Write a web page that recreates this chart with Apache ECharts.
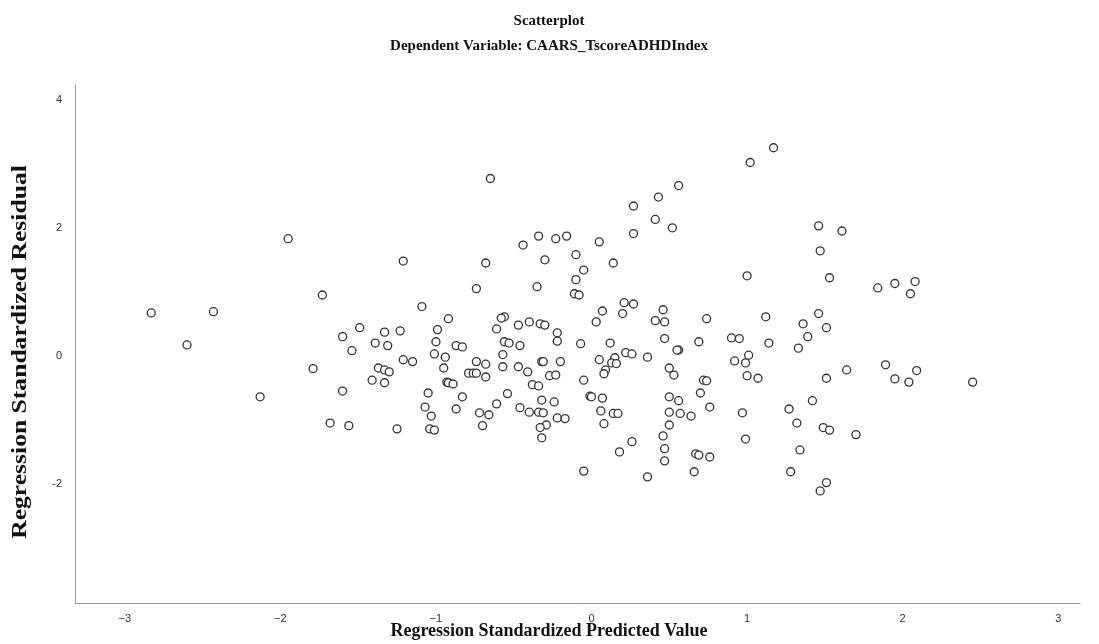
<!DOCTYPE html>
<html>
<head>
<meta charset="utf-8">
<script src="https://cdn.jsdelivr.net/npm/echarts@6/dist/echarts.min.js"></script>
<style>html,body{margin:0;padding:0;background:#fff;}#c{width:1099px;height:644px;}</style>
</head>
<body>
<div id="c"></div>
<script>
var titleLines = ["Scatterplot", "Dependent Variable: CAARS_TscoreADHDIndex"];
var xAxisTitle = "Regression Standardized Predicted Value";
var yAxisTitle = "Regression Standardized Residual";
var xTicks = [-3, -2, -1, 0, 1, 2, 3];
var yTicks = [-2, 0, 2, 4];

var predicted = [
 -2.83,-2.43,-1.95,-1.73,-2.60,-1.79,-2.13,-1.68,
 -0.65,-1.21,-0.68,-0.44,-0.34,-0.23,-0.16,-0.10,-0.30,-0.05,-0.10,-0.74,-0.35,-0.11,-0.08,-1.09,-0.92,-0.56,-0.58,
 1.17,1.02,0.56,0.43,0.27,0.41,0.52,0.27,0.05,0.14,1.46,1.61,1.47,1.00,1.53,0.21,0.27,0.07,0.20,0.46,0.74,1.12,1.46,
 1.84,1.95,2.08,2.05,
 1.64,1.89,1.95,2.09,2.04,2.45,1.70,
 -1.49,-1.60,-1.33,-1.23,-0.99,-0.61,-0.47,-0.40,-0.33,-0.30,-0.22,-0.22,-0.07,-1.39,-1.31,-1.54,-1.00,-0.87,-0.83,-0.56,-0.53,-0.46,
 -1.01,-0.94,-0.57,-1.21,-1.15,-1.37,-1.33,-1.30,-0.95,-0.74,-0.68,-0.57,-0.47,-0.41,-0.32,-0.31,-0.20,-0.79,-0.76,-0.74,-0.68,
 -1.41,-1.33,-0.93,-0.92,-0.89,-0.38,-0.34,-0.27,-0.23,-0.05,-1.60,-1.05,-0.83,-0.54,-0.32,-0.24,-0.01,-1.07,-0.87,-0.61,-0.46,
 -0.40,-0.34,-0.31,-0.72,-0.66,-1.03,-0.22,-0.17,-1.56,-1.25,-1.04,-1.01,-0.70,-0.29,-0.33,-0.32,-0.05,
 0.03,0.41,0.47,1.36,1.51,0.12,0.47,0.56,0.55,0.69,0.90,0.95,1.14,1.33,1.39,0.05,0.15,0.13,0.16,0.22,0.26,0.36,0.09,0.08,
 0.50,0.53,0.92,0.99,1.01,1.00,1.07,0.72,0.74,1.51,0.00,0.07,0.50,0.56,0.70,0.76,0.06,0.14,0.17,0.50,0.57,0.64,0.97,1.27,1.42,
 0.08,0.50,1.32,1.49,1.53,0.46,0.26,0.99,0.18,0.47,0.47,0.67,0.69,0.76,1.34,0.66,1.28,0.36,1.51,1.47
];
var residual = [
 0.67,0.69,1.83,0.95,0.17,-0.20,-0.64,-1.05,
 2.77,1.48,1.45,1.73,1.87,1.83,1.87,1.58,1.50,1.34,1.19,1.05,1.08,0.97,0.95,0.77,0.58,0.61,0.59,
 3.25,3.02,2.66,2.48,2.34,2.13,2.00,1.91,1.78,1.45,2.03,1.95,1.64,1.25,1.22,0.83,0.81,0.70,0.66,0.72,0.58,0.61,0.66,
 1.06,1.13,1.16,0.97,
 -0.22,-0.14,-0.36,-0.23,-0.41,-0.41,-1.23,
 0.44,0.30,0.37,0.39,0.41,0.42,0.48,0.53,0.50,0.48,0.36,0.23,0.19,0.20,0.16,0.08,0.22,0.16,0.14,0.22,0.20,0.16,
 0.03,-0.02,0.02,-0.06,-0.09,-0.19,-0.22,-0.25,-0.19,-0.09,-0.13,-0.17,-0.17,-0.25,-0.09,-0.09,-0.09,-0.27,-0.27,-0.27,-0.33,
 -0.38,-0.42,-0.41,-0.42,-0.44,-0.45,-0.47,-0.31,-0.30,-0.38,-0.55,-0.58,-0.64,-0.59,-0.69,-0.72,-0.63,-0.80,-0.83,-0.75,-0.81,
 -0.88,-0.88,-0.89,-0.89,-0.92,-0.94,-0.97,-0.98,-1.09,-1.14,-1.14,-1.16,-1.09,-1.08,-1.12,-1.28,-1.80,
 0.53,0.55,0.53,0.50,0.44,0.20,0.27,0.09,0.09,0.22,0.28,0.27,0.20,0.12,0.30,-0.06,-0.03,-0.11,-0.12,0.05,0.03,-0.02,-0.22,-0.28,
 -0.19,-0.30,-0.08,-0.11,0.01,-0.31,-0.35,-0.38,-0.39,-0.35,-0.64,-0.66,-0.64,-0.70,-0.58,-0.80,-0.86,-0.90,-0.90,-0.88,-0.90,-0.94,-0.89,-0.83,-0.70,
 -1.06,-1.08,-1.05,-1.12,-1.16,-1.25,-1.34,-1.30,-1.50,-1.45,-1.64,-1.53,-1.55,-1.58,-1.47,-1.81,-1.81,-1.89,-1.98,-2.11
];

var points = predicted.map(function (x, i) { return [x, residual[i]]; });

var chart = echarts.init(document.getElementById('c'), null, { renderer: 'canvas' });
var serif = '"Liberation Serif", "DejaVu Serif", serif';
var sans = '"Liberation Sans", Arial, sans-serif';
chart.setOption({
  animation: false,
  backgroundColor: '#fff',
  grid: { left: 75, right: 19, top: 85, bottom: 41, containLabel: false },
  xAxis: {
    type: 'value', min: -3.32, max: 3.14,
    axisLine: { show: true, onZero: false, lineStyle: { color: '#9a9a9a', width: 1 } },
    axisTick: { show: false },
    splitLine: { show: false },
    axisLabel: {
      customValues: xTicks, margin: 10, fontSize: 11, color: '#333', fontFamily: sans,
      formatter: function (v) { return String(v).replace('-', '\u2212'); }
    }
  },
  yAxis: {
    type: 'value', min: -3.86, max: 4.23,
    axisLine: { show: true, onZero: false, lineStyle: { color: '#9a9a9a', width: 1 } },
    axisTick: { show: false },
    splitLine: { show: false },
    axisLabel: { customValues: yTicks, margin: 13, fontSize: 11, color: '#333', fontFamily: sans }
  },
  graphic: [
    { type: 'text', x: 549, y: 21, style: { text: titleLines[0], font: 'bold 15px ' + serif, fill: '#111', align: 'center', verticalAlign: 'middle' } },
    { type: 'text', x: 549, y: 46, style: { text: titleLines[1], font: 'bold 15px ' + serif, fill: '#111', align: 'center', verticalAlign: 'middle' } },
    { type: 'text', x: 549, y: 631, style: { text: xAxisTitle, font: 'bold 18px ' + serif, fill: '#111', align: 'center', verticalAlign: 'middle' } },
    { type: 'text', x: 21, y: 352, rotation: Math.PI / 2, scaleX: 1.28, scaleY: 1.0, style: { text: yAxisTitle, font: 'bold 20px ' + serif, fill: '#111', align: 'center', verticalAlign: 'middle' } }
  ],
  series: [{
    type: 'scatter',
    data: points,
    symbol: 'circle',
    symbolSize: 8,
    itemStyle: { color: '#fff', borderColor: '#333', borderWidth: 1.3, opacity: 1 }
  }]
});
</script>
</body>
</html>
